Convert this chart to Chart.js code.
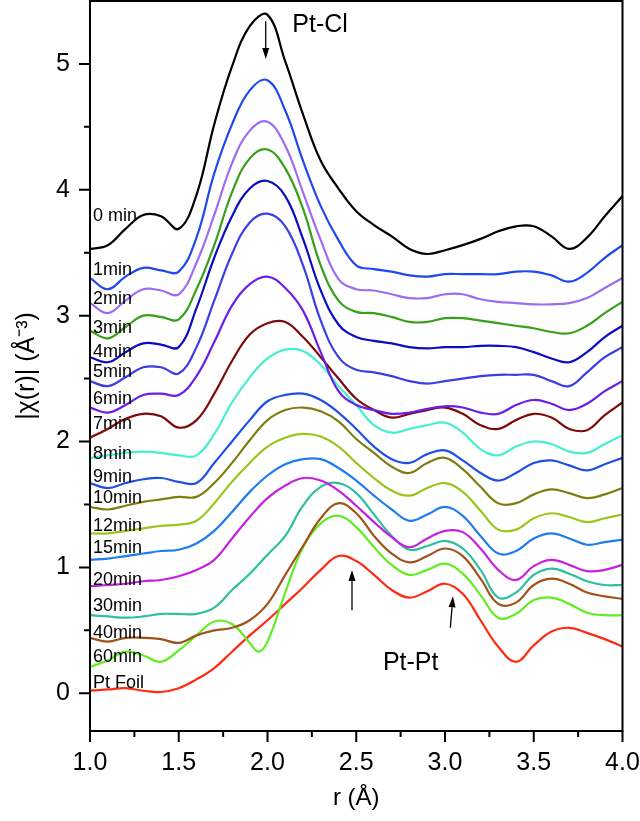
<!DOCTYPE html>
<html>
<head>
<meta charset="utf-8">
<script src="https://cdn.jsdelivr.net/npm/chart.js@4.4.1/dist/chart.umd.min.js"></script>
<style>
  html, body { margin: 0; padding: 0; background: #fff; }
  #wrap { width: 640px; height: 821px; position: relative; }
</style>
</head>
<body>
<div id="wrap"><canvas id="c"></canvas></div>
<script>
// |chi(r)| EXAFS magnitudes, offset stack
const r = [1.0,1.1,1.2,1.3,1.4,1.5,1.6,1.7,1.8,1.9,2.0,2.1,2.2,2.3,2.4,2.5,2.6,2.7,2.8,2.9,3.0,3.1,3.2,3.3,3.4,3.5,3.6,3.7,3.8,3.9,4.0];
// the 60 min curve has a sharp dip near 1.95 so it gets one extra point
const r60 = [1.0,1.1,1.2,1.3,1.4,1.5,1.6,1.7,1.8,1.9,1.95,2.0,2.1,2.2,2.3,2.4,2.5,2.6,2.7,2.8,2.9,3.0,3.1,3.2,3.3,3.4,3.5,3.6,3.7,3.8,3.9,4.0];

const chi0   = [3.53,3.56,3.69,3.80,3.79,3.69,3.96,4.52,4.98,5.30,5.39,5.02,4.60,4.23,4.01,3.83,3.72,3.63,3.53,3.49,3.52,3.56,3.61,3.67,3.71,3.71,3.63,3.53,3.62,3.79,3.95];
const chi1   = [3.30,3.21,3.31,3.38,3.36,3.35,3.62,4.13,4.52,4.79,4.87,4.63,4.23,3.87,3.60,3.40,3.37,3.35,3.32,3.31,3.33,3.33,3.33,3.33,3.35,3.35,3.32,3.27,3.34,3.46,3.56];
const chi2   = [3.10,3.02,3.12,3.21,3.20,3.17,3.42,3.80,4.21,4.47,4.54,4.35,3.98,3.60,3.29,3.21,3.20,3.17,3.14,3.14,3.17,3.17,3.13,3.11,3.10,3.09,3.09,3.10,3.14,3.22,3.30];
const chi3   = [2.88,2.82,2.91,3.00,2.99,2.97,3.21,3.56,3.98,4.25,4.32,4.17,3.85,3.40,3.12,3.03,3.02,2.99,2.95,2.95,2.98,2.98,2.96,2.94,2.92,2.90,2.87,2.86,2.92,3.02,3.11];
const chi4   = [2.67,2.63,2.71,2.78,2.77,2.75,3.06,3.46,3.79,4.01,4.07,3.95,3.61,3.20,2.93,2.83,2.80,2.78,2.75,2.74,2.75,2.75,2.76,2.76,2.75,2.71,2.66,2.63,2.71,2.83,2.92];
const chi5   = [2.48,2.44,2.51,2.59,2.59,2.54,2.75,3.12,3.49,3.74,3.81,3.71,3.40,2.96,2.67,2.57,2.55,2.52,2.48,2.46,2.48,2.50,2.52,2.53,2.53,2.53,2.48,2.44,2.55,2.67,2.75];
const chi6   = [2.27,2.23,2.29,2.37,2.38,2.37,2.52,2.79,3.08,3.25,3.31,3.22,3.04,2.71,2.40,2.29,2.25,2.22,2.23,2.26,2.28,2.27,2.23,2.22,2.29,2.33,2.30,2.25,2.30,2.40,2.48];
const chi7   = [2.03,2.10,2.18,2.22,2.20,2.11,2.17,2.38,2.64,2.85,2.94,2.95,2.83,2.67,2.50,2.34,2.25,2.19,2.22,2.25,2.27,2.22,2.13,2.10,2.17,2.22,2.19,2.10,2.09,2.21,2.31];
const chi8   = [1.87,1.89,1.91,1.92,1.91,1.89,1.89,2.06,2.31,2.51,2.66,2.73,2.72,2.61,2.44,2.29,2.13,2.07,2.10,2.13,2.15,2.07,1.94,1.89,1.96,2.00,1.98,1.92,1.91,1.98,2.05];
const chi9   = [1.67,1.63,1.67,1.70,1.71,1.68,1.67,1.83,2.00,2.17,2.32,2.37,2.38,2.33,2.23,2.10,1.96,1.86,1.83,1.90,1.93,1.85,1.75,1.69,1.75,1.83,1.85,1.81,1.77,1.82,1.87];
const chi10  = [1.48,1.46,1.49,1.52,1.54,1.56,1.56,1.67,1.83,2.01,2.17,2.25,2.27,2.24,2.16,2.02,1.91,1.80,1.75,1.83,1.87,1.78,1.64,1.51,1.51,1.58,1.62,1.59,1.55,1.58,1.63];
const chi12  = [1.27,1.27,1.29,1.31,1.33,1.34,1.37,1.51,1.68,1.83,1.96,2.03,2.06,2.04,1.96,1.83,1.71,1.61,1.57,1.63,1.67,1.60,1.45,1.30,1.30,1.39,1.43,1.40,1.36,1.39,1.42];
const chi15  = [1.06,1.07,1.09,1.11,1.13,1.14,1.19,1.29,1.44,1.60,1.73,1.82,1.86,1.86,1.79,1.69,1.57,1.46,1.37,1.42,1.48,1.41,1.25,1.11,1.13,1.23,1.27,1.23,1.18,1.20,1.22];
const chi20  = [0.85,0.86,0.87,0.89,0.90,0.93,0.98,1.06,1.23,1.40,1.55,1.65,1.71,1.69,1.61,1.49,1.36,1.24,1.16,1.23,1.29,1.28,1.15,0.98,0.90,1.01,1.06,1.02,0.97,0.98,1.02];
const chi30  = [0.62,0.61,0.60,0.61,0.63,0.63,0.63,0.68,0.82,0.95,1.10,1.25,1.49,1.64,1.67,1.59,1.42,1.25,1.14,1.17,1.21,1.15,0.98,0.76,0.80,0.94,0.99,0.95,0.89,0.86,0.86];
const chi40  = [0.44,0.41,0.44,0.44,0.43,0.40,0.46,0.50,0.52,0.58,0.71,0.94,1.17,1.39,1.51,1.43,1.25,1.11,1.04,1.09,1.15,1.09,0.91,0.71,0.72,0.86,0.91,0.87,0.80,0.77,0.75];
const chi60  = [0.21,0.26,0.33,0.30,0.25,0.34,0.46,0.57,0.55,0.40,0.33,0.41,0.80,1.16,1.35,1.41,1.32,1.16,1.02,0.94,0.98,1.03,0.95,0.78,0.60,0.63,0.74,0.76,0.71,0.64,0.62,0.62];
const chiFoil= [0.02,0.03,0.04,0.02,0.01,0.04,0.11,0.20,0.33,0.46,0.58,0.71,0.84,0.98,1.09,1.05,0.94,0.82,0.76,0.81,0.87,0.79,0.58,0.37,0.25,0.38,0.49,0.52,0.48,0.43,0.37];

const seriesNames  = ["0 min","1min","2min","3min","4min","5min","6min","7min","8min","9min","10min","12min","15min","20min","30min","40min","60min","Pt Foil"];
const seriesValues = [chi0,chi1,chi2,chi3,chi4,chi5,chi6,chi7,chi8,chi9,chi10,chi12,chi15,chi20,chi30,chi40,chi60,chiFoil];
const seriesR      = [r,r,r,r,r,r,r,r,r,r,r,r,r,r,r,r,r60,r];
// where each curve's name sits (y in data units, left edge of plot)
const labelY = [3.79,3.36,3.13,2.90,2.71,2.55,2.34,2.14,1.90,1.72,1.55,1.33,1.15,0.90,0.69,0.48,0.29,0.08];

const xMajor = [1.0,1.5,2.0,2.5,3.0,3.5,4.0];
const xMinor = [1.25,1.75,2.25,2.75,3.25,3.75];
const yMajor = [0,1,2,3,4,5];
const yMinor = [0.5,1.5,2.5,3.5,4.5];

const COLORS = [
  "#000000", "#1f48ee", "#9d6cf2", "#36a017", "#0b0cc4", "#3a3ee6",
  "#6a1eea", "#7e0a0a", "#46f0cf", "#1f50e6", "#7e7e10", "#9cc41c",
  "#1e7cf0", "#c620e0", "#2ebf9e", "#a0521c", "#62ec22", "#ff2a12",
];

const FONT = "'Liberation Sans', Arial, sans-serif";

// peak annotations
const arrows = [
  { x1: 1.99, y1: 5.34, x2: 1.99, y2: 5.04 },
  { x1: 2.476, y1: 0.66, x2: 2.476, y2: 0.98 },
  { x1: 3.03, y1: 0.52, x2: 3.045, y2: 0.77 },
];
const notes = [
  { text: "Pt-Cl", x: 2.14, y: 5.31 },
  { text: "Pt-Pt", x: 2.65, y: 0.24 },
];

// keep the plot box where the figure has it: no auto padding for edge labels
function pinScale(s, size) {
  if (s.isHorizontal()) s.height = size; else s.width = size;
  s.paddingTop = 0; s.paddingBottom = 0; s.paddingLeft = 0; s.paddingRight = 0;
}

// frame + outward tick marks (major and minor)
const frameTicks = {
  id: "frameTicks",
  afterDraw(chart) {
    const { ctx, chartArea: a, scales: { x, y } } = chart;
    ctx.save();
    ctx.strokeStyle = "#000";
    ctx.lineWidth = 2;
    ctx.strokeRect(a.left, a.top, a.right - a.left, a.bottom - a.top);
    ctx.beginPath();
    xMajor.forEach(v => { const p = x.getPixelForValue(v); ctx.moveTo(p, a.bottom); ctx.lineTo(p, a.bottom + 11); });
    xMinor.forEach(v => { const p = x.getPixelForValue(v); ctx.moveTo(p, a.bottom); ctx.lineTo(p, a.bottom + 6); });
    yMajor.forEach(v => { const p = y.getPixelForValue(v); ctx.moveTo(a.left - 11, p); ctx.lineTo(a.left, p); });
    yMinor.forEach(v => { const p = y.getPixelForValue(v); ctx.moveTo(a.left - 6, p); ctx.lineTo(a.left, p); });
    ctx.stroke();
    ctx.restore();
  },
};

// curve names, arrows and Pt-Cl / Pt-Pt notes
const annotations = {
  id: "annotations",
  afterDatasetsDraw(chart) {
    const { ctx, chartArea: a, scales: { x, y } } = chart;
    ctx.save();
    ctx.fillStyle = "#000";
    ctx.textBaseline = "middle";
    ctx.textAlign = "left";
    ctx.font = `18px ${FONT}`;
    seriesNames.forEach((name, i) => {
      ctx.fillText(name, a.left + 3, y.getPixelForValue(labelY[i]));
    });

    ctx.font = `25px ${FONT}`;
    notes.forEach(n => ctx.fillText(n.text, x.getPixelForValue(n.x), y.getPixelForValue(n.y)));

    ctx.strokeStyle = "#000";
    ctx.lineWidth = 1.3;
    arrows.forEach(ar => {
      const x1 = x.getPixelForValue(ar.x1), y1 = y.getPixelForValue(ar.y1);
      const x2 = x.getPixelForValue(ar.x2), y2 = y.getPixelForValue(ar.y2);
      const ang = Math.atan2(y2 - y1, x2 - x1);
      const hl = 11, hw = 3.5;
      ctx.beginPath();
      ctx.moveTo(x1, y1);
      ctx.lineTo(x2 - Math.cos(ang) * hl, y2 - Math.sin(ang) * hl);
      ctx.stroke();
      ctx.beginPath();
      ctx.moveTo(x2, y2);
      ctx.lineTo(x2 - Math.cos(ang) * hl - Math.sin(ang) * hw, y2 - Math.sin(ang) * hl + Math.cos(ang) * hw);
      ctx.lineTo(x2 - Math.cos(ang) * hl + Math.sin(ang) * hw, y2 - Math.sin(ang) * hl - Math.cos(ang) * hw);
      ctx.closePath();
      ctx.fill();
    });
    ctx.restore();
  },
};

const datasets = seriesNames.map((name, i) => ({
  label: name,
  data: seriesR[i].map((rv, j) => ({ x: rv, y: seriesValues[i][j] })),
  borderColor: COLORS[i],
  borderWidth: 2.2,
  pointRadius: 0,
  tension: 0.4,
  fill: false,
}));

new Chart(document.getElementById("c"), {
  type: "line",
  data: { datasets },
  options: {
    responsive: true,
    maintainAspectRatio: false,
    animation: false,
    devicePixelRatio: 1,
    layout: { padding: { top: 1, right: 17.5, left: 0, bottom: 0 } },
    plugins: {
      legend: { display: false },
      tooltip: { enabled: false },
    },
    scales: {
      x: {
        type: "linear",
        min: 1,
        max: 4,
        afterBuildTicks: s => { s.ticks = xMajor.map(v => ({ value: v })); },
        afterFit: s => pinScale(s, 90),
        grid: { display: false, drawTicks: false },
        border: { display: false },
        ticks: {
          autoSkip: false,
          maxRotation: 0,
          padding: 17,
          color: "#000",
          font: { family: FONT, size: 25 },
          callback: v => Number(v).toFixed(1),
        },
        title: {
          display: true,
          text: "r (Å)",
          color: "#000",
          font: { family: FONT, size: 24 },
          padding: { top: 0, bottom: 8 },
        },
      },
      y: {
        type: "linear",
        min: -0.3,
        max: 5.5,
        afterBuildTicks: s => { s.ticks = yMajor.map(v => ({ value: v })); },
        afterFit: s => pinScale(s, 90),
        grid: { display: false, drawTicks: false },
        border: { display: false },
        ticks: {
          autoSkip: false,
          padding: 20,
          color: "#000",
          font: { family: FONT, size: 25 },
          callback: v => String(v),
        },
        title: {
          display: true,
          text: "|χ(r)| (Å⁻³)",
          color: "#000",
          font: { family: FONT, size: 25 },
          padding: { top: 12, bottom: 0 },
        },
      },
    },
  },
  plugins: [frameTicks, annotations],
});
</script>
</body>
</html>
